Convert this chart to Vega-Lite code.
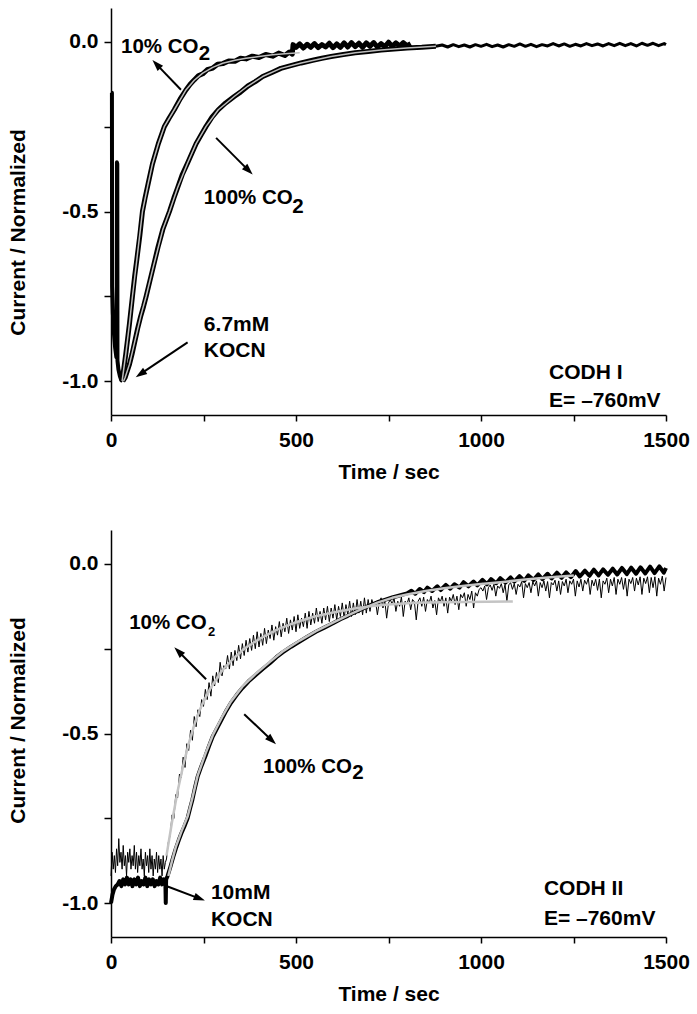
{
"$schema":"https://vega.github.io/schema/vega-lite/v6.json",
"background":"white",
"padding":{"left":7,"top":8,"right":5,"bottom":5},
"spacing":48,
"config":{"font":"Liberation Sans","view":{"stroke":null},
"axis":{"grid":false,"domainColor":"black","domainWidth":1.5,"tickColor":"black","tickWidth":1.5,"labelFont":"Liberation Sans","labelFontWeight":"bold","labelFontSize":21,"labelColor":"black","titleFont":"Liberation Sans","titleFontWeight":"bold","titleFontSize":21,"titleColor":"black","labelOverlap":false,"labelFlush":false},
"line":{"strokeJoin":"round"}},
"datasets":{
"top":[
{"s":"i0","t":0,"v":-0.15},{"s":"i0","t":2.5,"v":-0.15},{"s":"i0","t":3,"v":-0.72},{"s":"i0","t":5,"v":-0.8},{"s":"i0","t":8,"v":-0.86},{"s":"i0","t":11,"v":-0.9},{"s":"i0","t":14.5,"v":-0.93},{"s":"i0","t":15.5,"v":-0.92},{"s":"i0","t":16,"v":-0.355},{"s":"i0","t":17,"v":-0.36},{"s":"i0","t":17.5,"v":-0.94},{"s":"i0","t":20,"v":-0.965},{"s":"i0","t":24,"v":-0.985},{"s":"i0","t":28,"v":-0.998},{"s":"i0","t":31,"v":-1.0},
{"s":"d10","t":30,"v":-1.0},{"s":"d10","t":35,"v":-0.96},{"s":"d10","t":40,"v":-0.92},{"s":"d10","t":45,"v":-0.875},{"s":"d10","t":50,"v":-0.83},{"s":"d10","t":58,"v":-0.75},{"s":"d10","t":64,"v":-0.69},{"s":"d10","t":70,"v":-0.64},{"s":"d10","t":78,"v":-0.57},{"s":"d10","t":85,"v":-0.5},{"s":"d10","t":92,"v":-0.46},{"s":"d10","t":100,"v":-0.42},{"s":"d10","t":112,"v":-0.36},{"s":"d10","t":128,"v":-0.3},{"s":"d10","t":144,"v":-0.25},{"s":"d10","t":157,"v":-0.225},{"s":"d10","t":171,"v":-0.2},{"s":"d10","t":187,"v":-0.168},{"s":"d10","t":203,"v":-0.141},{"s":"d10","t":214,"v":-0.125},{"s":"d10","t":225,"v":-0.112},{"s":"d10","t":236,"v":-0.1},{"s":"d10","t":248,"v":-0.094},{"s":"d10","t":260,"v":-0.082},{"s":"d10","t":275,"v":-0.077},{"s":"d10","t":288,"v":-0.066},{"s":"d10","t":302,"v":-0.064},{"s":"d10","t":318,"v":-0.056},{"s":"d10","t":335,"v":-0.057},{"s":"d10","t":350,"v":-0.048},{"s":"d10","t":365,"v":-0.05},{"s":"d10","t":382,"v":-0.042},{"s":"d10","t":400,"v":-0.046},{"s":"d10","t":418,"v":-0.037},{"s":"d10","t":437,"v":-0.042},{"s":"d10","t":453,"v":-0.033},{"s":"d10","t":470,"v":-0.04},{"s":"d10","t":482,"v":-0.03},{"s":"d10","t":490,"v":-0.036},
{"s":"d10","t":492,"v":-0.008},{"s":"d10","t":500,"v":-0.016},{"s":"d10","t":510,"v":-0.006},{"s":"d10","t":520,"v":-0.018},{"s":"d10","t":530,"v":-0.007},{"s":"d10","t":540,"v":-0.016},{"s":"d10","t":550,"v":-0.005},{"s":"d10","t":560,"v":-0.017},{"s":"d10","t":570,"v":-0.008},{"s":"d10","t":580,"v":-0.015},{"s":"d10","t":590,"v":-0.004},{"s":"d10","t":600,"v":-0.017},{"s":"d10","t":610,"v":-0.006},{"s":"d10","t":620,"v":-0.016},{"s":"d10","t":630,"v":-0.003},{"s":"d10","t":640,"v":-0.015},{"s":"d10","t":650,"v":-0.002},{"s":"d10","t":660,"v":-0.014},{"s":"d10","t":670,"v":-0.004},{"s":"d10","t":680,"v":-0.016},{"s":"d10","t":690,"v":-0.003},{"s":"d10","t":700,"v":-0.013},{"s":"d10","t":710,"v":-0.002},{"s":"d10","t":720,"v":-0.015},{"s":"d10","t":730,"v":-0.005},{"s":"d10","t":740,"v":-0.014},{"s":"d10","t":750,"v":-0.001},{"s":"d10","t":760,"v":-0.013},{"s":"d10","t":770,"v":-0.003},{"s":"d10","t":780,"v":-0.012},{"s":"d10","t":790,"v":-0.002},{"s":"d10","t":800,"v":-0.011},{"s":"d10","t":810,"v":-0.005},
{"s":"d100","t":32,"v":-1.0},{"s":"d100","t":38,"v":-0.99},{"s":"d100","t":44,"v":-0.97},{"s":"d100","t":50,"v":-0.95},{"s":"d100","t":57,"v":-0.92},{"s":"d100","t":65,"v":-0.88},{"s":"d100","t":72,"v":-0.845},{"s":"d100","t":80,"v":-0.81},{"s":"d100","t":88,"v":-0.78},{"s":"d100","t":95,"v":-0.75},{"s":"d100","t":105,"v":-0.705},{"s":"d100","t":115,"v":-0.66},{"s":"d100","t":127,"v":-0.605},{"s":"d100","t":140,"v":-0.553},{"s":"d100","t":158,"v":-0.5},{"s":"d100","t":170,"v":-0.46},{"s":"d100","t":180,"v":-0.43},{"s":"d100","t":193,"v":-0.39},{"s":"d100","t":207,"v":-0.357},{"s":"d100","t":218,"v":-0.33},{"s":"d100","t":230,"v":-0.3},{"s":"d100","t":243,"v":-0.275},{"s":"d100","t":257,"v":-0.249},{"s":"d100","t":273,"v":-0.222},{"s":"d100","t":290,"v":-0.2},{"s":"d100","t":310,"v":-0.18},{"s":"d100","t":333,"v":-0.161},{"s":"d100","t":350,"v":-0.148},{"s":"d100","t":370,"v":-0.13},{"s":"d100","t":390,"v":-0.117},{"s":"d100","t":410,"v":-0.102},{"s":"d100","t":435,"v":-0.09},{"s":"d100","t":459,"v":-0.078},{"s":"d100","t":486,"v":-0.07},{"s":"d100","t":514,"v":-0.062},{"s":"d100","t":545,"v":-0.054},{"s":"d100","t":570,"v":-0.048},{"s":"d100","t":595,"v":-0.043},{"s":"d100","t":628,"v":-0.037},{"s":"d100","t":660,"v":-0.032},{"s":"d100","t":695,"v":-0.028},{"s":"d100","t":730,"v":-0.024},{"s":"d100","t":765,"v":-0.021},{"s":"d100","t":800,"v":-0.018},{"s":"d100","t":840,"v":-0.016},{"s":"d100","t":878,"v":-0.013},
{"s":"tail","t":878,"v":-0.013},{"s":"tail","t":895,"v":-0.009},{"s":"tail","t":910,"v":-0.015},{"s":"tail","t":925,"v":-0.008},{"s":"tail","t":940,"v":-0.014},{"s":"tail","t":955,"v":-0.009},{"s":"tail","t":970,"v":-0.015},{"s":"tail","t":985,"v":-0.008},{"s":"tail","t":1000,"v":-0.013},{"s":"tail","t":1015,"v":-0.007},{"s":"tail","t":1030,"v":-0.014},{"s":"tail","t":1045,"v":-0.009},{"s":"tail","t":1060,"v":-0.015},{"s":"tail","t":1075,"v":-0.008},{"s":"tail","t":1090,"v":-0.013},{"s":"tail","t":1105,"v":-0.006},{"s":"tail","t":1120,"v":-0.013},{"s":"tail","t":1135,"v":-0.007},{"s":"tail","t":1150,"v":-0.014},{"s":"tail","t":1165,"v":-0.008},{"s":"tail","t":1180,"v":-0.012},{"s":"tail","t":1195,"v":-0.005},{"s":"tail","t":1210,"v":-0.012},{"s":"tail","t":1225,"v":-0.006},{"s":"tail","t":1240,"v":-0.013},{"s":"tail","t":1255,"v":-0.007},{"s":"tail","t":1270,"v":-0.012},{"s":"tail","t":1285,"v":-0.005},{"s":"tail","t":1300,"v":-0.011},{"s":"tail","t":1315,"v":-0.006},{"s":"tail","t":1330,"v":-0.012},{"s":"tail","t":1345,"v":-0.005},{"s":"tail","t":1360,"v":-0.011},{"s":"tail","t":1375,"v":-0.004},{"s":"tail","t":1390,"v":-0.011},{"s":"tail","t":1405,"v":-0.005},{"s":"tail","t":1420,"v":-0.012},{"s":"tail","t":1435,"v":-0.004},{"s":"tail","t":1450,"v":-0.01},{"s":"tail","t":1465,"v":-0.004},{"s":"tail","t":1480,"v":-0.011},{"s":"tail","t":1495,"v":-0.005},{"s":"tail","t":1500,"v":-0.008},
{"s":"f10","t":30,"v":-1.0},{"s":"f10","t":40,"v":-0.92},{"s":"f10","t":50,"v":-0.83},{"s":"f10","t":58,"v":-0.75},{"s":"f10","t":70,"v":-0.64},{"s":"f10","t":85,"v":-0.5},{"s":"f10","t":100,"v":-0.42},{"s":"f10","t":112,"v":-0.36},{"s":"f10","t":128,"v":-0.3},{"s":"f10","t":144,"v":-0.25},{"s":"f10","t":171,"v":-0.2},{"s":"f10","t":203,"v":-0.141},{"s":"f10","t":225,"v":-0.113},{"s":"f10","t":248,"v":-0.092},{"s":"f10","t":275,"v":-0.075},{"s":"f10","t":302,"v":-0.063},{"s":"f10","t":335,"v":-0.054},{"s":"f10","t":365,"v":-0.048},{"s":"f10","t":400,"v":-0.043},{"s":"f10","t":437,"v":-0.038},{"s":"f10","t":470,"v":-0.035},{"s":"f10","t":510,"v":-0.032},
{"s":"f100","t":34,"v":-1.0},{"s":"f100","t":38,"v":-0.99},{"s":"f100","t":50,"v":-0.95},{"s":"f100","t":65,"v":-0.88},{"s":"f100","t":80,"v":-0.81},{"s":"f100","t":95,"v":-0.75},{"s":"f100","t":115,"v":-0.66},{"s":"f100","t":140,"v":-0.553},{"s":"f100","t":158,"v":-0.5},{"s":"f100","t":180,"v":-0.43},{"s":"f100","t":207,"v":-0.357},{"s":"f100","t":230,"v":-0.3},{"s":"f100","t":257,"v":-0.249},{"s":"f100","t":290,"v":-0.2},{"s":"f100","t":333,"v":-0.161},{"s":"f100","t":370,"v":-0.13},{"s":"f100","t":410,"v":-0.102},{"s":"f100","t":459,"v":-0.078},{"s":"f100","t":514,"v":-0.062},{"s":"f100","t":595,"v":-0.043},{"s":"f100","t":660,"v":-0.032},{"s":"f100","t":730,"v":-0.024},{"s":"f100","t":800,"v":-0.018},{"s":"f100","t":878,"v":-0.013}
],
"bot":[
{"s":"k","t":0,"v":-1.0},{"s":"k","t":4,"v":-0.975},{"s":"k","t":8,"v":-0.96},{"s":"k","t":13,"v":-0.95},{"s":"k","t":18,"v":-0.945},{"s":"k","t":23,"v":-0.935},{"s":"k","t":28,"v":-0.95},{"s":"k","t":33,"v":-0.93},{"s":"k","t":38,"v":-0.945},{"s":"k","t":43,"v":-0.925},{"s":"k","t":48,"v":-0.945},{"s":"k","t":53,"v":-0.93},{"s":"k","t":58,"v":-0.95},{"s":"k","t":63,"v":-0.93},{"s":"k","t":68,"v":-0.945},{"s":"k","t":73,"v":-0.925},{"s":"k","t":78,"v":-0.95},{"s":"k","t":83,"v":-0.935},{"s":"k","t":88,"v":-0.945},{"s":"k","t":93,"v":-0.925},{"s":"k","t":98,"v":-0.95},{"s":"k","t":103,"v":-0.93},{"s":"k","t":108,"v":-0.945},{"s":"k","t":113,"v":-0.93},{"s":"k","t":118,"v":-0.95},{"s":"k","t":123,"v":-0.935},{"s":"k","t":128,"v":-0.945},{"s":"k","t":133,"v":-0.925},{"s":"k","t":138,"v":-0.945},{"s":"k","t":143,"v":-0.93},{"s":"k","t":147,"v":-0.94},{"s":"k","t":148,"v":-1.0},{"s":"k","t":149,"v":-0.93},{"s":"k","t":153,"v":-0.92},
{"s":"k","t":160,"v":-0.895},{"s":"k","t":168,"v":-0.865},{"s":"k","t":175,"v":-0.84},{"s":"k","t":183,"v":-0.815},{"s":"k","t":190,"v":-0.795},{"s":"k","t":198,"v":-0.775},{"s":"k","t":207,"v":-0.75},{"s":"k","t":214,"v":-0.72},{"s":"k","t":220,"v":-0.695},{"s":"k","t":227,"v":-0.66},{"s":"k","t":234,"v":-0.628},{"s":"k","t":244,"v":-0.597},{"s":"k","t":255,"v":-0.567},{"s":"k","t":265,"v":-0.537},{"s":"k","t":275,"v":-0.509},{"s":"k","t":288,"v":-0.482},{"s":"k","t":300,"v":-0.457},{"s":"k","t":312,"v":-0.432},{"s":"k","t":324,"v":-0.41},{"s":"k","t":340,"v":-0.386},{"s":"k","t":355,"v":-0.366},{"s":"k","t":372,"v":-0.346},{"s":"k","t":392,"v":-0.327},{"s":"k","t":410,"v":-0.31},{"s":"k","t":430,"v":-0.292},{"s":"k","t":447,"v":-0.275},{"s":"k","t":464,"v":-0.261},{"s":"k","t":487,"v":-0.244},{"s":"k","t":510,"v":-0.229},{"s":"k","t":532,"v":-0.214},{"s":"k","t":554,"v":-0.2},{"s":"k","t":578,"v":-0.187},{"s":"k","t":600,"v":-0.175},{"s":"k","t":620,"v":-0.163},{"s":"k","t":640,"v":-0.153},{"s":"k","t":660,"v":-0.142},{"s":"k","t":680,"v":-0.132},{"s":"k","t":700,"v":-0.122},{"s":"k","t":720,"v":-0.113},{"s":"k","t":740,"v":-0.106},{"s":"k","t":760,"v":-0.099},{"s":"k","t":780,"v":-0.093},{"s":"k","t":800,"v":-0.087},
{"s":"k","t":812,"v":-0.079},{"s":"k","t":822,"v":-0.088},{"s":"k","t":834,"v":-0.074},{"s":"k","t":846,"v":-0.083},{"s":"k","t":855,"v":-0.07},{"s":"k","t":868,"v":-0.08},{"s":"k","t":882,"v":-0.066},{"s":"k","t":891,"v":-0.077},{"s":"k","t":905,"v":-0.062},{"s":"k","t":917,"v":-0.073},{"s":"k","t":928,"v":-0.06},{"s":"k","t":942,"v":-0.07},{"s":"k","t":953,"v":-0.054},{"s":"k","t":966,"v":-0.066},{"s":"k","t":980,"v":-0.052},{"s":"k","t":990,"v":-0.063},{"s":"k","t":1004,"v":-0.047},{"s":"k","t":1016,"v":-0.06},{"s":"k","t":1027,"v":-0.045},{"s":"k","t":1041,"v":-0.057},{"s":"k","t":1052,"v":-0.042},{"s":"k","t":1066,"v":-0.055},{"s":"k","t":1080,"v":-0.04},{"s":"k","t":1090,"v":-0.052},{"s":"k","t":1104,"v":-0.036},{"s":"k","t":1117,"v":-0.05},{"s":"k","t":1128,"v":-0.034},{"s":"k","t":1142,"v":-0.047},{"s":"k","t":1155,"v":-0.031},{"s":"k","t":1166,"v":-0.045},{"s":"k","t":1180,"v":-0.029},{"s":"k","t":1191,"v":-0.043},{"s":"k","t":1205,"v":-0.026},{"s":"k","t":1218,"v":-0.041},{"s":"k","t":1230,"v":-0.025},{"s":"k","t":1243,"v":-0.039},{"s":"k","t":1256,"v":-0.021},{"s":"k","t":1267,"v":-0.037},{"s":"k","t":1281,"v":-0.02},{"s":"k","t":1293,"v":-0.035},{"s":"k","t":1305,"v":-0.017},{"s":"k","t":1318,"v":-0.034},{"s":"k","t":1330,"v":-0.016},{"s":"k","t":1343,"v":-0.032},{"s":"k","t":1356,"v":-0.014},{"s":"k","t":1368,"v":-0.031},{"s":"k","t":1381,"v":-0.012},{"s":"k","t":1394,"v":-0.03},{"s":"k","t":1406,"v":-0.011},{"s":"k","t":1419,"v":-0.029},{"s":"k","t":1431,"v":-0.01},{"s":"k","t":1444,"v":-0.028},{"s":"k","t":1457,"v":-0.008},{"s":"k","t":1469,"v":-0.027},{"s":"k","t":1482,"v":-0.007},{"s":"k","t":1494,"v":-0.026},{"s":"k","t":1500,"v":-0.012},
{"s":"n","t":0,"v":-0.92},{"s":"n","t":3,"v":-0.85},{"s":"n","t":6,"v":-0.9},{"s":"n","t":9,"v":-0.86},{"s":"n","t":12,"v":-0.91},{"s":"n","t":15,"v":-0.84},{"s":"n","t":18,"v":-0.89},{"s":"n","t":21,"v":-0.81},{"s":"n","t":24,"v":-0.88},{"s":"n","t":27,"v":-0.85},{"s":"n","t":30,"v":-0.9},{"s":"n","t":33,"v":-0.83},{"s":"n","t":36,"v":-0.89},{"s":"n","t":39,"v":-0.86},{"s":"n","t":42,"v":-0.92},{"s":"n","t":45,"v":-0.85},{"s":"n","t":48,"v":-0.88},{"s":"n","t":51,"v":-0.84},{"s":"n","t":54,"v":-0.9},{"s":"n","t":57,"v":-0.86},{"s":"n","t":60,"v":-0.89},{"s":"n","t":63,"v":-0.83},{"s":"n","t":66,"v":-0.9},{"s":"n","t":69,"v":-0.85},{"s":"n","t":72,"v":-0.91},{"s":"n","t":75,"v":-0.86},{"s":"n","t":78,"v":-0.89},{"s":"n","t":81,"v":-0.84},{"s":"n","t":84,"v":-0.9},{"s":"n","t":87,"v":-0.87},{"s":"n","t":90,"v":-0.92},{"s":"n","t":93,"v":-0.85},{"s":"n","t":96,"v":-0.89},{"s":"n","t":99,"v":-0.86},{"s":"n","t":102,"v":-0.91},{"s":"n","t":105,"v":-0.84},{"s":"n","t":108,"v":-0.9},{"s":"n","t":111,"v":-0.86},{"s":"n","t":114,"v":-0.92},{"s":"n","t":117,"v":-0.87},{"s":"n","t":120,"v":-0.9},{"s":"n","t":123,"v":-0.85},{"s":"n","t":126,"v":-0.91},{"s":"n","t":129,"v":-0.86},{"s":"n","t":132,"v":-0.9},{"s":"n","t":135,"v":-0.87},{"s":"n","t":138,"v":-0.92},{"s":"n","t":141,"v":-0.86},{"s":"n","t":144,"v":-0.9},{"s":"n","t":147,"v":-0.88},{"s":"n","t":150,"v":-0.87},
{"s":"n","t":155,"v":-0.82},{"s":"n","t":160,"v":-0.8},{"s":"n","t":165,"v":-0.74},{"s":"n","t":170,"v":-0.75},{"s":"n","t":175,"v":-0.68},{"s":"n","t":180,"v":-0.69},{"s":"n","t":185,"v":-0.62},{"s":"n","t":190,"v":-0.63},{"s":"n","t":195,"v":-0.57},{"s":"n","t":200,"v":-0.6},{"s":"n","t":205,"v":-0.53},{"s":"n","t":210,"v":-0.55},{"s":"n","t":215,"v":-0.49},{"s":"n","t":220,"v":-0.52},{"s":"n","t":225,"v":-0.45},{"s":"n","t":230,"v":-0.48},{"s":"n","t":235,"v":-0.43},{"s":"n","t":240,"v":-0.45},{"s":"n","t":245,"v":-0.4},{"s":"n","t":250,"v":-0.42},{"s":"n","t":255,"v":-0.37},{"s":"n","t":260,"v":-0.4},{"s":"n","t":265,"v":-0.35},{"s":"n","t":270,"v":-0.39},{"s":"n","t":275,"v":-0.33},{"s":"n","t":280,"v":-0.36},{"s":"n","t":285,"v":-0.32},{"s":"n","t":290,"v":-0.35},{"s":"n","t":295,"v":-0.29},{"s":"n","t":300,"v":-0.33},{"s":"n","t":305,"v":-0.3},{"s":"n","t":310,"v":-0.31},{"s":"n","t":315,"v":-0.27},{"s":"n","t":320,"v":-0.31},{"s":"n","t":325,"v":-0.26},{"s":"n","t":330,"v":-0.3},{"s":"n","t":335,"v":-0.255},{"s":"n","t":340,"v":-0.285},{"s":"n","t":345,"v":-0.24},{"s":"n","t":350,"v":-0.28},{"s":"n","t":355,"v":-0.235},{"s":"n","t":360,"v":-0.27},{"s":"n","t":365,"v":-0.225},{"s":"n","t":370,"v":-0.26},{"s":"n","t":375,"v":-0.22},{"s":"n","t":380,"v":-0.255},{"s":"n","t":385,"v":-0.21},{"s":"n","t":390,"v":-0.25},{"s":"n","t":395,"v":-0.2},{"s":"n","t":400,"v":-0.245},{"s":"n","t":405,"v":-0.205},{"s":"n","t":410,"v":-0.24},{"s":"n","t":415,"v":-0.19},{"s":"n","t":420,"v":-0.235},{"s":"n","t":425,"v":-0.195},{"s":"n","t":430,"v":-0.22},{"s":"n","t":435,"v":-0.18},{"s":"n","t":440,"v":-0.225},{"s":"n","t":445,"v":-0.185},{"s":"n","t":450,"v":-0.21},{"s":"n","t":455,"v":-0.17},{"s":"n","t":460,"v":-0.215},{"s":"n","t":465,"v":-0.175},{"s":"n","t":470,"v":-0.2},{"s":"n","t":475,"v":-0.16},{"s":"n","t":480,"v":-0.205},{"s":"n","t":485,"v":-0.165},{"s":"n","t":490,"v":-0.195},{"s":"n","t":495,"v":-0.155},{"s":"n","t":500,"v":-0.2},{"s":"n","t":505,"v":-0.15},{"s":"n","t":510,"v":-0.19},{"s":"n","t":515,"v":-0.16},{"s":"n","t":520,"v":-0.185},{"s":"n","t":525,"v":-0.145},{"s":"n","t":530,"v":-0.19},{"s":"n","t":535,"v":-0.14},{"s":"n","t":540,"v":-0.18},{"s":"n","t":545,"v":-0.145},{"s":"n","t":550,"v":-0.175},{"s":"n","t":555,"v":-0.13},{"s":"n","t":560,"v":-0.17},{"s":"n","t":565,"v":-0.14},{"s":"n","t":570,"v":-0.175},{"s":"n","t":575,"v":-0.13},{"s":"n","t":580,"v":-0.165},{"s":"n","t":585,"v":-0.125},{"s":"n","t":590,"v":-0.17},{"s":"n","t":595,"v":-0.13},{"s":"n","t":600,"v":-0.16},{"s":"n","t":605,"v":-0.12},{"s":"n","t":610,"v":-0.165},{"s":"n","t":615,"v":-0.125},{"s":"n","t":620,"v":-0.155},{"s":"n","t":625,"v":-0.115},{"s":"n","t":630,"v":-0.16},{"s":"n","t":635,"v":-0.12},{"s":"n","t":640,"v":-0.15},{"s":"n","t":645,"v":-0.11},{"s":"n","t":650,"v":-0.155},{"s":"n","t":655,"v":-0.115},{"s":"n","t":660,"v":-0.15},{"s":"n","t":665,"v":-0.105},{"s":"n","t":670,"v":-0.145},{"s":"n","t":675,"v":-0.11},{"s":"n","t":680,"v":-0.15},{"s":"n","t":685,"v":-0.1},{"s":"n","t":690,"v":-0.145},{"s":"n","t":695,"v":-0.105},{"s":"n","t":700,"v":-0.14},
{"s":"n","t":705,"v":-0.105},{"s":"n","t":710,"v":-0.125},{"s":"n","t":715,"v":-0.11},{"s":"n","t":720,"v":-0.15},{"s":"n","t":725,"v":-0.112},{"s":"n","t":730,"v":-0.1},{"s":"n","t":735,"v":-0.13},{"s":"n","t":740,"v":-0.108},{"s":"n","t":745,"v":-0.16},{"s":"n","t":750,"v":-0.115},{"s":"n","t":755,"v":-0.105},{"s":"n","t":760,"v":-0.12},{"s":"n","t":765,"v":-0.1},{"s":"n","t":770,"v":-0.14},{"s":"n","t":775,"v":-0.11},{"s":"n","t":780,"v":-0.125},{"s":"n","t":785,"v":-0.098},{"s":"n","t":790,"v":-0.155},{"s":"n","t":795,"v":-0.11},{"s":"n","t":800,"v":-0.118},{"s":"n","t":805,"v":-0.1},{"s":"n","t":810,"v":-0.135},{"s":"n","t":815,"v":-0.105},{"s":"n","t":820,"v":-0.112},{"s":"n","t":825,"v":-0.165},{"s":"n","t":830,"v":-0.11},{"s":"n","t":835,"v":-0.1},{"s":"n","t":840,"v":-0.125},{"s":"n","t":845,"v":-0.098},{"s":"n","t":850,"v":-0.14},{"s":"n","t":855,"v":-0.105},{"s":"n","t":860,"v":-0.115},{"s":"n","t":865,"v":-0.095},{"s":"n","t":870,"v":-0.13},{"s":"n","t":875,"v":-0.108},{"s":"n","t":880,"v":-0.15},{"s":"n","t":885,"v":-0.1},{"s":"n","t":890,"v":-0.112},{"s":"n","t":895,"v":-0.095},{"s":"n","t":900,"v":-0.125},{"s":"n","t":905,"v":-0.1},{"s":"n","t":910,"v":-0.145},{"s":"n","t":915,"v":-0.098},{"s":"n","t":920,"v":-0.11},{"s":"n","t":925,"v":-0.09},{"s":"n","t":930,"v":-0.12},{"s":"n","t":935,"v":-0.095},{"s":"n","t":940,"v":-0.135},{"s":"n","t":945,"v":-0.09},{"s":"n","t":950,"v":-0.1},{"s":"n","t":955,"v":-0.085},{"s":"n","t":960,"v":-0.125},{"s":"n","t":965,"v":-0.09},{"s":"n","t":970,"v":-0.105},{"s":"n","t":975,"v":-0.08},{"s":"n","t":980,"v":-0.13},{"s":"n","t":985,"v":-0.085},{"s":"n","t":990,"v":-0.095},{"s":"n","t":995,"v":-0.075},
{"s":"n","t":1000,"v":-0.07},{"s":"n","t":1005,"v":-0.08},{"s":"n","t":1010,"v":-0.065},{"s":"n","t":1015,"v":-0.105},{"s":"n","t":1020,"v":-0.07},{"s":"n","t":1025,"v":-0.062},{"s":"n","t":1030,"v":-0.078},{"s":"n","t":1035,"v":-0.06},{"s":"n","t":1040,"v":-0.095},{"s":"n","t":1045,"v":-0.065},{"s":"n","t":1050,"v":-0.072},{"s":"n","t":1055,"v":-0.058},{"s":"n","t":1060,"v":-0.085},{"s":"n","t":1065,"v":-0.06},{"s":"n","t":1070,"v":-0.11},{"s":"n","t":1075,"v":-0.062},{"s":"n","t":1080,"v":-0.055},{"s":"n","t":1085,"v":-0.075},{"s":"n","t":1090,"v":-0.058},{"s":"n","t":1095,"v":-0.09},{"s":"n","t":1100,"v":-0.06},{"s":"n","t":1105,"v":-0.068},{"s":"n","t":1110,"v":-0.052},{"s":"n","t":1115,"v":-0.1},{"s":"n","t":1120,"v":-0.058},{"s":"n","t":1125,"v":-0.07},{"s":"n","t":1130,"v":-0.055},{"s":"n","t":1135,"v":-0.085},{"s":"n","t":1140,"v":-0.052},{"s":"n","t":1145,"v":-0.065},{"s":"n","t":1150,"v":-0.05},{"s":"n","t":1155,"v":-0.095},{"s":"n","t":1160,"v":-0.055},{"s":"n","t":1165,"v":-0.07},{"s":"n","t":1170,"v":-0.05},{"s":"n","t":1175,"v":-0.08},{"s":"n","t":1180,"v":-0.052},{"s":"n","t":1185,"v":-0.1},{"s":"n","t":1190,"v":-0.055},{"s":"n","t":1195,"v":-0.062},{"s":"n","t":1200,"v":-0.048},{"s":"n","t":1205,"v":-0.08},{"s":"n","t":1210,"v":-0.05},{"s":"n","t":1215,"v":-0.09},{"s":"n","t":1220,"v":-0.052},{"s":"n","t":1225,"v":-0.065},{"s":"n","t":1230,"v":-0.045},{"s":"n","t":1235,"v":-0.085},{"s":"n","t":1240,"v":-0.05},{"s":"n","t":1245,"v":-0.06},{"s":"n","t":1250,"v":-0.045},{"s":"n","t":1255,"v":-0.095},{"s":"n","t":1260,"v":-0.05},{"s":"n","t":1265,"v":-0.068},{"s":"n","t":1270,"v":-0.045},{"s":"n","t":1275,"v":-0.08},{"s":"n","t":1280,"v":-0.048},{"s":"n","t":1285,"v":-0.06},{"s":"n","t":1290,"v":-0.042},{"s":"n","t":1295,"v":-0.09},{"s":"n","t":1300,"v":-0.048},{"s":"n","t":1305,"v":-0.065},{"s":"n","t":1310,"v":-0.045},{"s":"n","t":1315,"v":-0.078},{"s":"n","t":1320,"v":-0.045},{"s":"n","t":1325,"v":-0.1},{"s":"n","t":1330,"v":-0.05},{"s":"n","t":1335,"v":-0.06},{"s":"n","t":1340,"v":-0.042},{"s":"n","t":1345,"v":-0.085},{"s":"n","t":1350,"v":-0.045},{"s":"n","t":1355,"v":-0.065},{"s":"n","t":1360,"v":-0.04},{"s":"n","t":1365,"v":-0.09},{"s":"n","t":1370,"v":-0.045},{"s":"n","t":1375,"v":-0.06},{"s":"n","t":1380,"v":-0.04},{"s":"n","t":1385,"v":-0.075},{"s":"n","t":1390,"v":-0.042},{"s":"n","t":1395,"v":-0.095},{"s":"n","t":1400,"v":-0.045},{"s":"n","t":1405,"v":-0.058},{"s":"n","t":1410,"v":-0.04},{"s":"n","t":1415,"v":-0.08},{"s":"n","t":1420,"v":-0.042},{"s":"n","t":1425,"v":-0.062},{"s":"n","t":1430,"v":-0.038},{"s":"n","t":1435,"v":-0.09},{"s":"n","t":1440,"v":-0.042},{"s":"n","t":1445,"v":-0.058},{"s":"n","t":1450,"v":-0.038},{"s":"n","t":1455,"v":-0.085},{"s":"n","t":1460,"v":-0.04},{"s":"n","t":1465,"v":-0.07},{"s":"n","t":1470,"v":-0.038},{"s":"n","t":1475,"v":-0.095},{"s":"n","t":1480,"v":-0.042},{"s":"n","t":1485,"v":-0.06},{"s":"n","t":1490,"v":-0.036},{"s":"n","t":1495,"v":-0.08},{"s":"n","t":1500,"v":-0.04},
{"s":"g10","t":150,"v":-0.86},{"s":"g10","t":165,"v":-0.76},{"s":"g10","t":180,"v":-0.67},{"s":"g10","t":195,"v":-0.595},{"s":"g10","t":210,"v":-0.53},{"s":"g10","t":225,"v":-0.475},{"s":"g10","t":240,"v":-0.43},{"s":"g10","t":255,"v":-0.395},{"s":"g10","t":270,"v":-0.365},{"s":"g10","t":285,"v":-0.34},{"s":"g10","t":300,"v":-0.315},{"s":"g10","t":330,"v":-0.28},{"s":"g10","t":360,"v":-0.25},{"s":"g10","t":400,"v":-0.222},{"s":"g10","t":450,"v":-0.193},{"s":"g10","t":500,"v":-0.172},{"s":"g10","t":550,"v":-0.155},{"s":"g10","t":600,"v":-0.143},{"s":"g10","t":650,"v":-0.133},{"s":"g10","t":700,"v":-0.125},{"s":"g10","t":750,"v":-0.12},{"s":"g10","t":800,"v":-0.116},{"s":"g10","t":850,"v":-0.114},{"s":"g10","t":950,"v":-0.112},{"s":"g10","t":1086,"v":-0.111},
{"s":"g100","t":155,"v":-0.92},{"s":"g100","t":165,"v":-0.875},{"s":"g100","t":175,"v":-0.835},{"s":"g100","t":190,"v":-0.79},{"s":"g100","t":207,"v":-0.745},{"s":"g100","t":220,"v":-0.69},{"s":"g100","t":234,"v":-0.625},{"s":"g100","t":255,"v":-0.56},{"s":"g100","t":275,"v":-0.505},{"s":"g100","t":300,"v":-0.452},{"s":"g100","t":324,"v":-0.406},{"s":"g100","t":355,"v":-0.362},{"s":"g100","t":392,"v":-0.323},{"s":"g100","t":430,"v":-0.288},{"s":"g100","t":464,"v":-0.258},{"s":"g100","t":510,"v":-0.226},{"s":"g100","t":554,"v":-0.198},{"s":"g100","t":600,"v":-0.173},{"s":"g100","t":640,"v":-0.152},{"s":"g100","t":680,"v":-0.132},{"s":"g100","t":720,"v":-0.114},{"s":"g100","t":760,"v":-0.1},{"s":"g100","t":800,"v":-0.09},{"s":"g100","t":850,"v":-0.08},{"s":"g100","t":900,"v":-0.072},{"s":"g100","t":950,"v":-0.065},{"s":"g100","t":1000,"v":-0.059},{"s":"g100","t":1060,"v":-0.053},{"s":"g100","t":1120,"v":-0.046},{"s":"g100","t":1180,"v":-0.04},{"s":"g100","t":1251,"v":-0.034}
],
"ann":[
{"p":"top","k":"co","t":27,"v":-0.032,"label":"10% CO"},
{"p":"top","k":"s2","t":237,"v":-0.053,"label":"2"},
{"p":"top","k":"co","t":251,"v":-0.479,"label":"100% CO"},
{"p":"top","k":"s2","t":490,"v":-0.503,"label":"2"},
{"p":"top","k":"m","t":251,"v":-0.853,"label":"6.7mM"},
{"p":"top","k":"m","t":251,"v":-0.929,"label":"KOCN"},
{"p":"top","k":"m","t":1184,"v":-0.994,"label":"CODH I"},
{"p":"top","k":"m","t":1184,"v":-1.076,"label":"E= –760mV"},
{"p":"bot","k":"co","t":49,"v":-0.191,"label":"10% CO"},
{"p":"bot","k":"ss","t":262,"v":-0.212,"label":"2"},
{"p":"bot","k":"co","t":411,"v":-0.617,"label":"100% CO"},
{"p":"bot","k":"s2","t":652,"v":-0.635,"label":"2"},
{"p":"bot","k":"m","t":270,"v":-0.989,"label":"10mM"},
{"p":"bot","k":"m","t":270,"v":-1.069,"label":"KOCN"},
{"p":"bot","k":"m","t":1170,"v":-0.975,"label":"CODH II"},
{"p":"bot","k":"m","t":1170,"v":-1.064,"label":"E= –760mV"}
],
"arrows":[
{"p":"top","t":189,"v":-0.141,"t2":123.8,"v2":-0.067},
{"p":"top","t":284,"v":-0.283,"t2":370.8,"v2":-0.378},
{"p":"top","t":207,"v":-0.886,"t2":81,"v2":-0.978},
{"p":"bot","t":257,"v":-0.34,"t2":183.2,"v2":-0.259},
{"p":"bot","t":360,"v":-0.443,"t2":433.5,"v2":-0.519},
{"p":"bot","t":153,"v":-0.951,"t2":237.8,"v2":-0.986}
],
"heads":[
{"p":"top","t":123.8,"v":-0.067,"ang":316},
{"p":"top","t":370.8,"v":-0.378,"ang":135},
{"p":"top","t":81,"v":-0.978,"ang":236},
{"p":"bot","t":183.2,"v":-0.259,"ang":315},
{"p":"bot","t":433.5,"v":-0.519,"ang":133},
{"p":"bot","t":237.8,"v":-0.986,"ang":111}
]
},
"vconcat":[
{
"width":555,"height":407,
"encoding":{
"x":{"field":"t","type":"quantitative","scale":{"domain":[0,1500],"nice":false,"zero":false},
"axis":{"title":"Time / sec","values":[0,250,500,750,1000,1250,1500],"labelExpr":"datum.value % 500 === 0 ? format(datum.value, 'd') : ''","tickSize":6,"labelPadding":8,"titleY":63,"titleBaseline":"alphabetic"}},
"y":{"field":"v","type":"quantitative","scale":{"domain":[-1.1,0.1],"nice":false,"zero":false},
"axis":{"title":"Current / Normalized","values":[-1,-0.75,-0.5,-0.25,0],"labelExpr":"datum.value === 0 ? '0.0' : datum.value === -0.5 ? '-0.5' : datum.value === -1 ? '-1.0' : ''","tickSize":7,"labelPadding":6,"titleX":-93,"titleY":224,"titleBaseline":"middle","titleAlign":"center"}}
},
"layer":[
{"data":{"name":"top"},"transform":[{"filter":"datum.s === 'i0'"}],"mark":{"type":"line","color":"black","strokeWidth":4},"encoding":{"order":{"field":"t","type":"quantitative"}}},
{"data":{"name":"top"},"transform":[{"filter":"datum.s === 'd10' || datum.s === 'd100'"}],"mark":{"type":"line","color":"black","strokeWidth":5},"encoding":{"detail":{"field":"s"}}},
{"data":{"name":"top"},"transform":[{"filter":"datum.s === 'tail'"}],"mark":{"type":"line","color":"black","strokeWidth":3},"encoding":{"detail":{"field":"s"}}},
{"data":{"name":"top"},"transform":[{"filter":"datum.s === 'f10' || datum.s === 'f100'"}],"mark":{"type":"line","color":"#bdbdbd","strokeWidth":1.5},"encoding":{"detail":{"field":"s"}}},
{"data":{"name":"arrows"},"transform":[{"filter":"datum.p === 'top'"}],"mark":{"type":"rule","color":"black","strokeWidth":2},"encoding":{"x2":{"field":"t2"},"y2":{"field":"v2"}}},
{"data":{"name":"heads"},"transform":[{"filter":"datum.p === 'top'"}],"mark":{"type":"point","shape":"M0,-1L0.6,0.8L-0.6,0.8Z","filled":true,"color":"black","opacity":1,"size":160},"encoding":{"angle":{"field":"ang","type":"quantitative","scale":null}}},
{"data":{"name":"ann"},"transform":[{"filter":"datum.p === 'top' && datum.k === 'm'"}],"mark":{"type":"text","align":"left","baseline":"alphabetic","fontSize":21,"fontWeight":"bold","font":"Liberation Sans","color":"black"},"encoding":{"text":{"field":"label"}}},
{"data":{"name":"ann"},"transform":[{"filter":"datum.p === 'top' && (datum.k === 'co' || datum.k === 's2')"}],"mark":{"type":"text","align":"left","baseline":"alphabetic","fontSize":20.5,"fontWeight":"bold","font":"Liberation Sans","color":"black"},"encoding":{"text":{"field":"label"}}}
]
},
{
"width":555,"height":407,
"encoding":{
"x":{"field":"t","type":"quantitative","scale":{"domain":[0,1500],"nice":false,"zero":false},
"axis":{"title":"Time / sec","values":[0,250,500,750,1000,1250,1500],"labelExpr":"datum.value % 500 === 0 ? format(datum.value, 'd') : ''","tickSize":6,"labelPadding":8,"titleY":63,"titleBaseline":"alphabetic"}},
"y":{"field":"v","type":"quantitative","scale":{"domain":[-1.1,0.1],"nice":false,"zero":false},
"axis":{"title":"Current / Normalized","values":[-1,-0.75,-0.5,-0.25,0],"labelExpr":"datum.value === 0 ? '0.0' : datum.value === -0.5 ? '-0.5' : datum.value === -1 ? '-1.0' : ''","tickSize":7,"labelPadding":6,"titleX":-93,"titleY":190,"titleBaseline":"middle","titleAlign":"center"}}
},
"layer":[
{"data":{"name":"bot"},"transform":[{"filter":"datum.s === 'k'"}],"mark":{"type":"line","color":"black","strokeWidth":4},"encoding":{"detail":{"field":"s"}}},
{"data":{"name":"bot"},"transform":[{"filter":"datum.s === 'n'"}],"mark":{"type":"line","color":"black","strokeWidth":1},"encoding":{"detail":{"field":"s"}}},
{"data":{"name":"bot"},"transform":[{"filter":"datum.s === 'g10' || datum.s === 'g100'"}],"mark":{"type":"line","color":"#c4c4c4","strokeWidth":2.5},"encoding":{"detail":{"field":"s"}}},
{"data":{"name":"arrows"},"transform":[{"filter":"datum.p === 'bot'"}],"mark":{"type":"rule","color":"black","strokeWidth":2},"encoding":{"x2":{"field":"t2"},"y2":{"field":"v2"}}},
{"data":{"name":"heads"},"transform":[{"filter":"datum.p === 'bot'"}],"mark":{"type":"point","shape":"M0,-1L0.6,0.8L-0.6,0.8Z","filled":true,"color":"black","opacity":1,"size":160},"encoding":{"angle":{"field":"ang","type":"quantitative","scale":null}}},
{"data":{"name":"ann"},"transform":[{"filter":"datum.p === 'bot' && datum.k === 'm'"}],"mark":{"type":"text","align":"left","baseline":"alphabetic","fontSize":21,"fontWeight":"bold","font":"Liberation Sans","color":"black"},"encoding":{"text":{"field":"label"}}},
{"data":{"name":"ann"},"transform":[{"filter":"datum.p === 'bot' && (datum.k === 'co' || datum.k === 's2')"}],"mark":{"type":"text","align":"left","baseline":"alphabetic","fontSize":20.5,"fontWeight":"bold","font":"Liberation Sans","color":"black"},"encoding":{"text":{"field":"label"}}},
{"data":{"name":"ann"},"transform":[{"filter":"datum.p === 'bot' && datum.k === 'ss'"}],"mark":{"type":"text","align":"left","baseline":"alphabetic","fontSize":13,"fontWeight":"bold","font":"Liberation Sans","color":"black"},"encoding":{"text":{"field":"label"}}}
]
}
]
}
